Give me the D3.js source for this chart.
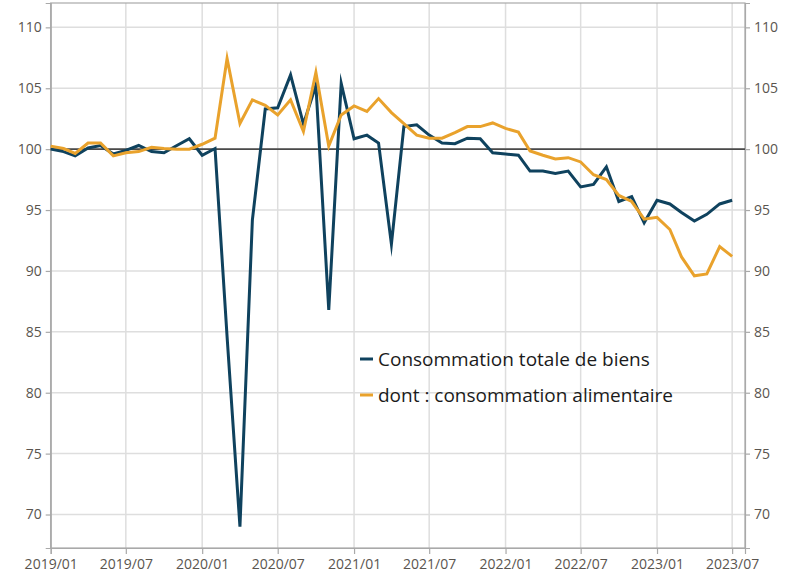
<!DOCTYPE html>
<html>
<head>
<meta charset="utf-8">
<script src="https://cdn.jsdelivr.net/npm/d3@7"></script>
<style>
  html, body { margin: 0; padding: 0; background: #fff; }
  svg { display: block; }
  .tick text { font-family: "Open Sans", "Noto Sans", sans-serif; fill: #5a554f; }
</style>
</head>
<body>
<svg id="chart" width="790" height="575"></svg>
<script>
// Monthly index, base 100, January 2019 to July 2023
const startMonth = "2019-01";
const seriesNames = ["Consommation totale de biens", "dont : consommation alimentaire"];
const totalGoods = [
  100.0, 99.8, 99.45, 100.1, 100.3, 99.6, 99.9, 100.3, 99.8, 99.7, 100.3, 100.85,
  99.5, 100.05, 84.6, 69.0, 94.2, 103.3, 103.4, 106.1, 102.05, 105.25, 86.8, 105.4,
  100.85, 101.15, 100.5, 92.2, 101.85, 102.0, 101.15, 100.5, 100.45, 100.9, 100.85, 99.7,
  99.6, 99.5, 98.2, 98.2, 98.0, 98.2, 96.9, 97.1, 98.55, 95.7, 96.1, 93.95,
  95.8, 95.5, 94.8, 94.1, 94.65, 95.5, 95.8
];
const foodGoods = [
  100.25, 100.05, 99.65, 100.5, 100.5, 99.45, 99.7, 99.8, 100.15, 100.05, 100.0, 100.0,
  100.4, 100.9, 107.45, 102.1, 104.05, 103.6, 102.8, 104.05, 101.45, 106.3, 100.25, 102.8,
  103.55, 103.1, 104.15, 103.0, 102.1, 101.15, 100.9, 100.9, 101.35, 101.85, 101.85, 102.15,
  101.7, 101.4, 99.85, 99.5, 99.2, 99.3, 98.95, 97.9, 97.5, 96.2, 95.7, 94.25,
  94.4, 93.4, 91.15, 89.6, 89.75, 92.0, 91.2
];
const yTicks = [70, 75, 80, 85, 90, 95, 100, 105, 110];
const xTickLabels = ["2019/01", "2019/07", "2020/01", "2020/07", "2021/01", "2021/07", "2022/01", "2022/07", "2023/01", "2023/07"];
const referenceLevel = 100;

const colors = ["#0f425e", "#e9a22c"];

const svg = d3.select("#chart");
const margin = { left: 50.7, right: 45, top: 3, bottom: 27 };
const W = 790, H = 575;
const x0 = margin.left, x1 = W - margin.right;
const y0 = H - margin.bottom, y1 = margin.top;

const parseMonth = d3.timeParse("%Y-%m");
const parseLabel = d3.timeParse("%Y/%m");
const start = parseMonth(startMonth);
const dates = totalGoods.map((_, i) => d3.timeMonth.offset(start, i));

const x = d3.scaleTime()
  .domain([start, d3.timeMonth.offset(start, totalGoods.length)])
  .range([x0, x1]);
const y = d3.scaleLinear().domain([67.25, 112]).range([y0, y1]);

const tickDates = xTickLabels.map(parseLabel);

// Grid
const grid = svg.append("g");
grid.selectAll("line.h").data(yTicks).join("line")
  .attr("x1", x0).attr("x2", x1)
  .attr("y1", d => y(d)).attr("y2", d => y(d))
  .attr("stroke", "#dedede").attr("stroke-width", 1.5);
grid.selectAll("line.v").data(tickDates).join("line")
  .attr("x1", d => x(d)).attr("x2", d => x(d))
  .attr("y1", y1).attr("y2", y0)
  .attr("stroke", "#dedede").attr("stroke-width", 1.5);

// Frame
svg.append("rect")
  .attr("x", x0).attr("y", y1)
  .attr("width", x1 - x0).attr("height", y0 - y1)
  .attr("fill", "none").attr("stroke", "#a9a9a9").attr("stroke-width", 1.2);

// Axes
const fmt = d3.timeFormat("%Y/%m");
const styleAxis = g => {
  g.select(".domain").attr("stroke", "#a9a9a9").attr("stroke-width", 1.2);
  g.selectAll(".tick line").attr("stroke", "#a9a9a9").attr("stroke-width", 1.2);
  g.selectAll(".tick text").attr("font-size", 14);
};
svg.append("g").attr("transform", `translate(0,${y0})`)
  .call(d3.axisBottom(x).tickValues(tickDates).tickFormat(fmt).tickSize(6).tickPadding(5))
  .call(styleAxis);
svg.append("g").attr("transform", `translate(${x0},0)`)
  .call(d3.axisLeft(y).tickValues(yTicks).tickSize(5).tickPadding(4))
  .call(styleAxis);
svg.append("g").attr("transform", `translate(${x1},0)`)
  .call(d3.axisRight(y).tickValues(yTicks).tickSize(5).tickPadding(4))
  .call(styleAxis);

// Reference line at 100
svg.append("line")
  .attr("x1", x0).attr("x2", x1)
  .attr("y1", y(referenceLevel)).attr("y2", y(referenceLevel))
  .attr("stroke", "#4a4a4a").attr("stroke-width", 1.6);

// Series
const line = d3.line().x((d, i) => x(dates[i])).y(d => y(d));
[totalGoods, foodGoods].forEach((vals, k) => {
  svg.append("path").datum(vals)
    .attr("d", line)
    .attr("fill", "none")
    .attr("stroke", colors[k])
    .attr("stroke-width", 3)
    .attr("stroke-linejoin", "miter")
    .attr("stroke-miterlimit", 10);
});

// Legend
const legend = svg.append("g").attr("transform", "translate(360,359)");
seriesNames.forEach((name, k) => {
  const row = legend.append("g").attr("transform", `translate(0,${k * 36})`);
  row.append("line").attr("x1", 0).attr("x2", 13).attr("y1", 0).attr("y2", 0)
    .attr("stroke", colors[k]).attr("stroke-width", 3);
  row.append("text").attr("x", 18).attr("y", 0).attr("dy", "0.35em")
    .attr("font-family", "'Open Sans', 'Noto Sans', sans-serif")
    .attr("font-size", 19).attr("fill", "#1b1b1b")
    .text(name);
});
</script>
</body>
</html>
